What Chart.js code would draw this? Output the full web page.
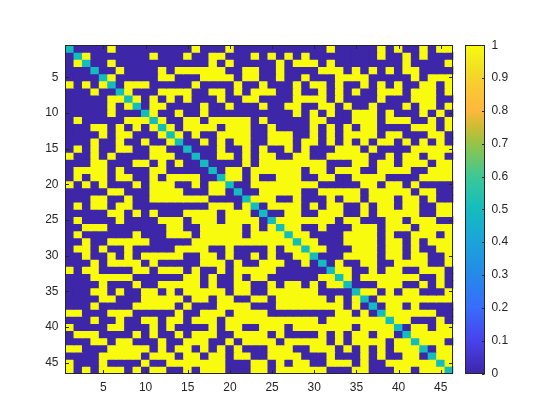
<!DOCTYPE html>
<html>
<head>
<meta charset="utf-8">
<script src="https://cdn.jsdelivr.net/npm/chart.js@4/dist/chart.umd.min.js"></script>
<style>
html,body{margin:0;padding:0;background:#ffffff;}
#wrap{width:560px;height:420px;position:relative;}
</style>
</head>
<body>
<div id="wrap"><canvas id="c" width="560" height="420"></canvas></div>
<script>
// ---- data ----
const cellLabels = ['1','2','3','4','5','6','7','8','9','10','11','12','13','14','15','16','17','18','19','20','21','22','23','24','25','26','27','28','29','30','31','32','33','34','35','36','37','38','39','40','41','42','43','44','45','46'];
const xTickLabels = ['5','10','15','20','25','30','35','40','45'];
const yTickValues = [5,10,15,20,25,30,35,40,45];
const colorbarTicks = [0,0.1,0.2,0.3,0.4,0.5,0.6,0.7,0.8,0.9,1];
const colorbarTickLabels = ['0','0.1','0.2','0.3','0.4','0.5','0.6','0.7','0.8','0.9','1'];
const diagonalValue = 0.5;
// columns (right of the diagonal) whose value is 1, for each row 1..46; the matrix is symmetric
const onesByRow = [
  [6,16,20,32,38,40,43,45,46],
  [3,11,15,18,19,23,25,27,29,38,41,43],
  [6,18,20,26,28,29,30,32,41,46],
  [7,12,14,15,16,17,18,19,22,23,26,31,32,33,35,37,39,41,42],
  [6,12,13,17,18,19,20,22,23,26,29,33,34,35,36,42,44,45,46],
  [8,9,10,16,21,24,28,30,31,33,36,38,40,43,44,46],
  [8,12,13,14,15,18,19,21,23,24,25,28,31,33,35,38,39,40,42,43,44,46],
  [9,11,13,15,19,22,23,28,29,30,31,33,38,42,43,44],
  [11,12,17,20,24,27,28,31,32,34,37,41,43,44,46],
  [11,14,17,28,30,32,35,36,37,39,43,45],
  [12,15,16,18,19,20,21,22,24,30,31,35,36,37,39,40,41,44,46],
  [13,15,16,17,18,20,21,22,25,30,32,34,36,37,42,43,44,46],
  [14,16,19,20,21,22,25,26,27,30,32,34,35,36,37,39,40,44,45],
  [17,19,21,22,25,26,27,29,30,32,34,36,38,39,41,43,45],
  [19,22,24,27,29,33,34,35,37,42,43,44,45,46],
  [19,20,22,24,25,28,29,32,33,34,35,36,39,41,42,44,45],
  [22,24,25,26,27,28,29,30,31,35,36,38,39,41,42,43,45,46],
  [20,21,23,24,25,26,27,28,30,31,33,34,35,38,39,40,41,44,45,46],
  [20,21,23,26,27,28,31,32,35,36,37,38,43,44,45,46],
  [23,24,25,26,27,28,29,30,36,37,39,40,42],
  [24,25,26,27,28,31,32,33,34,35,37,38,39,40,41,43,44],
  [23,24,25,28,32,34,35,37,38,39,41,42,44],
  [25,26,27,28,30,32,33,36,38,39,41,42,45,46],
  [27,28,31,32,33,36,38,39,40,41,42,45,46],
  [26,27,28,29,30,31,32,34,35,39,40,42,43,44],
  [27,28,31,35,36,37,39,40,41,43,44,45,46],
  [28,29,34,35,36,37,39,42,43,44,46],
  [29,30,34,35,36,37,39,40,42,44,45,46],
  [30,31,35,36,37,39,40,42,45,46],
  [34,35,36,37,39,40,42,43,46],
  [33,36,37,40,41,42,43,46],
  [33,34,37,39,40,43,44,45],
  [34,36,37,38,39,40,41,42,45],
  [38,39,40,43,45],
  [36,37,39,41,42,46],
  [38,39,40,41,42,43,44,45,46],
  [39,40,42],
  [39,40,41,42,43,44],
  [40,41,45],
  [42,43,45,46],
  [42,43,44,45,46],
  [43,44,45],
  [45,46],
  [45,46],
  [46],
  []
];

// ---- styling ----
const parulaStops = [
  [0.00,[62,38,168]],[0.10,[72,66,236]],[0.20,[56,108,252]],[0.30,[36,138,232]],
  [0.40,[28,163,218]],[0.50,[20,188,190]],[0.60,[60,200,150]],[0.70,[150,196,70]],
  [0.75,[205,188,52]],[0.80,[252,184,60]],[0.87,[250,200,50]],[0.93,[240,225,35]],[1.00,[249,251,14]]
];
function parula(v){
  for(let i=1;i<parulaStops.length;i++){
    const [p1,c1]=parulaStops[i-1],[p2,c2]=parulaStops[i];
    if(v<=p2){const t=(v-p1)/(p2-p1);return 'rgb('+c1.map((a,k)=>Math.round(a+(c2[k]-a)*t)).join(',')+')';}
  }
  return 'rgb(249,251,14)';
}
const n = cellLabels.length;
const matrix = cellLabels.map(()=>cellLabels.map(()=>0));
for(let r=0;r<n;r++){ matrix[r][r]=diagonalValue; }
onesByRow.forEach((cols,r)=>cols.forEach(c=>{matrix[r][c-1]=1;matrix[c-1][r]=1;}));

const datasets = cellLabels.map((rl,r)=>({
  label:'row '+rl,
  data: cellLabels.map(()=>[Number(rl)-0.5, Number(rl)+0.5]),
  backgroundColor: matrix[r].map(v=>parula(v)),
  borderWidth:0,
  inflateAmount:0.4,
  barPercentage:1,
  categoryPercentage:1,
  grouped:false,
  xAxisID:'x', yAxisID:'y'
}));

const axisColor = '#262626';
const font = {family:'"Liberation Sans", Arial, sans-serif', size:12};

const decorations = {
  id:'decorations',
  afterDraw(chart){
    const {ctx, chartArea:a, scales} = chart;
    ctx.save();
    ctx.strokeStyle = axisColor; ctx.lineWidth = 1;
    const L=Math.round(a.left)-0.5, R=Math.round(a.right)-0.5, T=Math.round(a.top)+0.5, B=Math.round(a.bottom)-0.5;
    ctx.strokeRect(L,T,R-L,B-T);
    const tl = 3.5;
    ctx.beginPath();
    xTickLabels.forEach(lbl=>{
      const x = Math.round(scales.x.getPixelForValue(cellLabels.indexOf(lbl)))+0.5;
      ctx.moveTo(x,B); ctx.lineTo(x,B-tl);
      ctx.moveTo(x,T); ctx.lineTo(x,T+tl);
    });
    yTickValues.forEach(v=>{
      const y = Math.round(scales.y.getPixelForValue(v))+0.5;
      ctx.moveTo(L,y); ctx.lineTo(L+tl,y);
      ctx.moveTo(R,y); ctx.lineTo(R-tl,y);
    });
    ctx.stroke();
    // colorbar
    const cb = scales.cb;
    const x0 = Math.round(a.right)+12, w = 20;
    const yTop = cb.getPixelForValue(1), yBot = cb.getPixelForValue(0);
    const g = ctx.createLinearGradient(0,yBot,0,yTop);
    parulaStops.forEach(([p,c])=>g.addColorStop(p,'rgb('+c.join(',')+')'));
    ctx.fillStyle = g;
    ctx.fillRect(x0, Math.round(yTop), w, Math.round(yBot)-Math.round(yTop));
    ctx.strokeRect(x0+0.5, Math.round(yTop)+0.5, w-1, Math.round(yBot)-Math.round(yTop)-1);
    ctx.beginPath();
    colorbarTicks.forEach(v=>{
      const y = Math.round(cb.getPixelForValue(v))+0.5;
      ctx.moveTo(x0+w-0.5,y); ctx.lineTo(x0+w-3,y);
    });
    ctx.stroke();
    ctx.restore();
  }
};

new Chart(document.getElementById('c'), {
  type:'bar',
  data:{labels:cellLabels, datasets},
  options:{
    responsive:false, animation:false, devicePixelRatio:1,
    layout:{padding:{top:31,left:0,right:0,bottom:0}},
    plugins:{legend:{display:false}, tooltip:{enabled:false}},
    scales:{
      x:{type:'category', offset:true, grid:{display:false,drawTicks:false}, border:{display:false},
         ticks:{autoSkip:false, maxRotation:0, padding:7, color:axisColor, font,
                callback:(v,i)=> xTickLabels.includes(cellLabels[i]) ? cellLabels[i] : ''},
         afterFit:s=>{s.height=420-373.5;}},
      y:{type:'linear', position:'left', reverse:true, min:0.5, max:46.5,
         grid:{display:false,drawTicks:false}, border:{display:false},
         afterBuildTicks:s=>{s.ticks=yTickValues.map(v=>({value:v}));},
         ticks:{padding:7, color:axisColor, font, callback:v=>String(v)},
         afterFit:s=>{s.width=65.5;}},
      cb:{type:'linear', position:'right', min:0, max:1, display:true,
          grid:{display:false,drawTicks:false}, border:{display:false},
          afterBuildTicks:s=>{s.ticks=colorbarTicks.map(v=>({value:v}));},
          ticks:{padding:38, color:axisColor, font,
                 callback:v=>colorbarTickLabels[colorbarTicks.findIndex(t=>Math.abs(t-v)<1e-9)]},
          afterFit:s=>{s.width=560-453.4;}}
    }
  },
  plugins:[decorations]
});
</script>
</body>
</html>
